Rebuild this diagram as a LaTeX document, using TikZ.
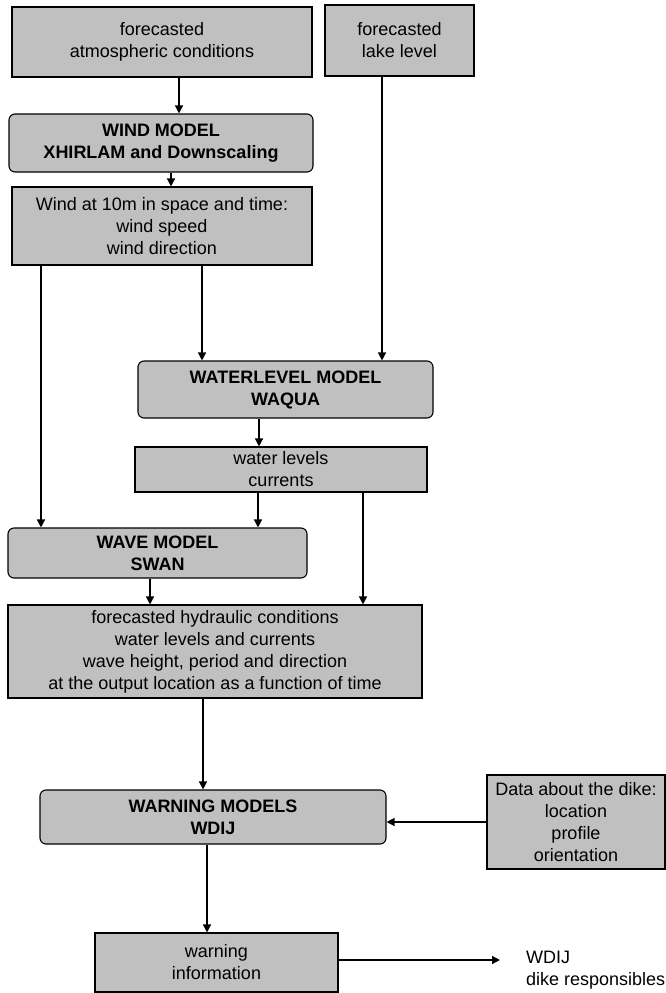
\documentclass[tikz,border=0pt]{standalone}
\usepackage{fontspec}
\setmainfont{Liberation Sans}
\usepackage{tikz}
\usetikzlibrary{arrows.meta}
\definecolor{ink}{HTML}{000000}
\definecolor{boxgray}{HTML}{C0C0C0}
\tikzset{
  box/.style={draw=ink, fill=boxgray, line width=1.1pt, inner sep=0pt, align=center, font=\fontsize{18}{22}\selectfont},
  model/.style={box, rounded corners=6pt, font=\fontsize{18}{22}\selectfont\bfseries},
  arr/.style={draw=ink, line width=1.3pt, -{Triangle[length=8pt,width=8pt]}},
  lab/.style={text=ink, font=\fontsize{18}{22}\selectfont, align=left, inner sep=0pt},
}

\begin{document}
\begin{tikzpicture}[x=1pt,y=-1pt]
  \useasboundingbox (0,0) rectangle (665,993);
  % inputs
  \node[box,minimum width=300pt,minimum height=70pt] (atm) at (162,42) {forecasted\\atmospheric conditions};
  \node[box,minimum width=149pt,minimum height=71pt] (lake) at (399.5,40.5) {forecasted\\lake level};
  % models and results
  \node[model,minimum width=304pt,minimum height=58pt] (wind) at (161,143) {WIND MODEL\\XHIRLAM and Downscaling};
  \node[box,minimum width=300pt,minimum height=78pt] (windout) at (162,226) {Wind at 10m in space and time:\\wind speed\\wind direction};
  \node[model,minimum width=295pt,minimum height=57pt] (wlmodel) at (285.5,389.5) {WATERLEVEL MODEL\\WAQUA};
  \node[box,minimum width=292pt,minimum height=45pt] (wlout) at (281,469.5) {water levels\\currents};
  \node[model,minimum width=299pt,minimum height=50pt] (wave) at (157.5,553) {WAVE MODEL\\SWAN};
  \node[box,minimum width=414pt,minimum height=93pt] (hydr) at (215,651.5) {forecasted hydraulic conditions\\water levels and currents\\wave height, period and direction\\at the output location as a function of time};
  \node[model,minimum width=346pt,minimum height=54pt] (warn) at (213,817) {WARNING MODELS\\WDIJ};
  \node[box,minimum width=178pt,minimum height=94pt] (dike) at (576,822) {Data about the dike:\\location\\profile\\orientation};
  \node[box,minimum width=243pt,minimum height=59pt] (info) at (216.5,962.5) {warning\\information};
  \node[lab,anchor=west] (users) at (526,970) {WDIJ\\dike responsibles};
  \coordinate (tip) at (500,960);

  \draw[arr] ([xshift=17pt]atm.south) -- ([xshift=18pt]wind.north);
  \draw[arr] ([xshift=10pt]wind.south) -- ([xshift=9pt]windout.north);
  \draw[arr] ([xshift=-121pt]windout.south) -- ([xshift=-116.5pt]wave.north);
  \draw[arr] ([xshift=40pt]windout.south) -- ([xshift=-83.5pt]wlmodel.north);
  \draw[arr] ([xshift=-17.5pt]lake.south) -- ([xshift=96.5pt]wlmodel.north);
  \draw[arr] ([xshift=-26.5pt]wlmodel.south) -- ([xshift=-22pt]wlout.north);
  \draw[arr] ([xshift=-23pt]wlout.south) -- ([xshift=100.5pt]wave.north);
  \draw[arr] ([xshift=82pt]wlout.south) -- ([xshift=148pt]hydr.north);
  \draw[arr] ([xshift=-7.5pt]wave.south) -- ([xshift=-65pt]hydr.north);
  \draw[arr] ([xshift=-12pt]hydr.south) -- ([xshift=-10pt]warn.north);
  \draw[arr] (dike.west) -- ([yshift=-5pt]warn.east);
  \draw[arr] ([xshift=-6pt]warn.south) -- ([xshift=-9.5pt]info.north);
  \draw[arr] (info.east |- tip) -- (tip);
\end{tikzpicture}
\end{document}
